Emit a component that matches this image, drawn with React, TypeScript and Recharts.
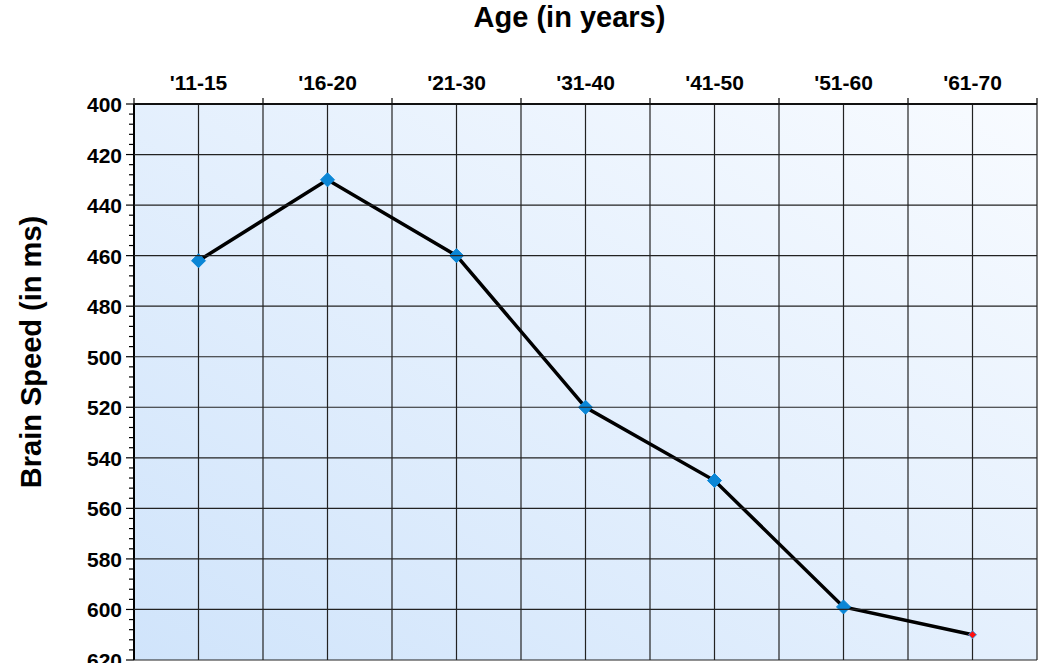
import { LineChart, Line, XAxis, YAxis, CartesianGrid } from "recharts";

const ageGroups = ["'11-15", "'16-20", "'21-30", "'31-40", "'41-50", "'51-60", "'61-70"];
const brainSpeed = [462, 430, 460, 520, 549, 599, 610];

// minor ticks every 4 ms, labelled gridlines every 20 ms
const yTicks: number[] = [];
for (let v = 400; v <= 620; v += 4) yTicks.push(v);

// grid columns sit at every group centre and every group boundary
const xTicks: number[] = [];
for (let i = -0.5; i <= ageGroups.length - 0.5; i += 0.5) xTicks.push(i);

const data = ageGroups.map((age, i) => ({ idx: i, age, speed: brainSpeed[i] }));

const font = "'Liberation Sans', Arial, sans-serif";
const AXIS_X = 134;
const PLOT_RIGHT = 1037;

const TopTick = (props: any) => {
  const { x, y, payload } = props;
  const v = payload.value;
  if (Number.isInteger(v)) {
    return (
      <text x={x} y={y - 14} textAnchor="middle" fontFamily={font} fontWeight="bold" fontSize={21} fill="#000">
        {ageGroups[v]}
      </text>
    );
  }
  return <line x1={x} x2={x} y1={y - 6} y2={y} stroke="#000" strokeWidth={1.2} />;
};

const LeftTick = (props: any) => {
  const { y, payload } = props;
  const v = payload.value;
  const major = v % 20 === 0;
  return (
    <g>
      {major && <line x1={AXIS_X} x2={PLOT_RIGHT} y1={y} y2={y} stroke="#222" strokeWidth={1.2} />}
      <line x1={AXIS_X - (major ? 8 : 5)} x2={AXIS_X} y1={y} y2={y} stroke="#000" strokeWidth={1.2} />
      {major && (
        <text x={AXIS_X - 12} y={y + 8} textAnchor="end" fontFamily={font} fontWeight="bold" fontSize={21} fill="#000">
          {v}
        </text>
      )}
    </g>
  );
};

const YLabel = () => (
  <text
    x={31}
    y={352}
    transform="rotate(-90 31 352)"
    textAnchor="middle"
    dominantBaseline="central"
    fontFamily={font}
    fontWeight="bold"
    fontSize={29}
    fill="#000"
  >
    Brain Speed (in ms)
  </text>
);

const Dot = (props: any) => {
  const { cx, cy, index } = props;
  if (cx == null || cy == null) return null;
  const last = index === brainSpeed.length - 1;
  const r = last ? 4 : 7;
  const pts = `${cx},${cy - r} ${cx + r},${cy} ${cx},${cy + r} ${cx - r},${cy}`;
  return (
    <polygon
      key={`d-${index}`}
      points={pts}
      fill={last ? "#ff1010" : "#0a86d6"}
      stroke={last ? "#3a9be0" : "#0a86d6"}
      strokeWidth={1}
    />
  );
};

export default function App() {
  return (
    <div style={{ position: "absolute", left: 0, top: 0, background: "#fff" }}>
      <LineChart width={1040} height={663} data={data} margin={{ top: 0, right: 3, bottom: 3, left: 0 }}>
        <defs>
          <linearGradient id="plotBg" x1="0" y1="1" x2="1" y2="0">
            <stop offset="0%" stopColor="#d0e4fb" />
            <stop offset="100%" stopColor="#f8fbff" />
          </linearGradient>
        </defs>
        <CartesianGrid
          horizontal={false}
          fill="url(#plotBg)"
          fillOpacity={1}
          stroke="#222"
          strokeWidth={1.2}
        />
        <XAxis
          dataKey="idx"
          type="number"
          orientation="top"
          domain={[-0.5, ageGroups.length - 0.5]}
          ticks={xTicks}
          interval={0}
          height={104}
          tickSize={0}
          tickMargin={0}
          tickLine={false}
          tick={<TopTick />}
          axisLine={{ stroke: "#000", strokeWidth: 2 }}
          label={{
            value: "Age (in years)",
            position: "insideTop",
            offset: 6,
            dx: -16,
            style: { fontFamily: font, fontWeight: "bold", fontSize: 29, fill: "#000" },
          }}
        />
        <YAxis
          type="number"
          reversed
          domain={[400, 620]}
          ticks={yTicks}
          interval={0}
          width={134}
          tickSize={0}
          tickMargin={0}
          tickLine={false}
          tick={<LeftTick />}
          axisLine={{ stroke: "#000", strokeWidth: 2 }}
          label={<YLabel />}
        />
        <Line
          dataKey="speed"
          type="linear"
          stroke="#000"
          strokeWidth={3.5}
          dot={<Dot />}
          activeDot={false}
          isAnimationActive={false}
        />
      </LineChart>
    </div>
  );
}
